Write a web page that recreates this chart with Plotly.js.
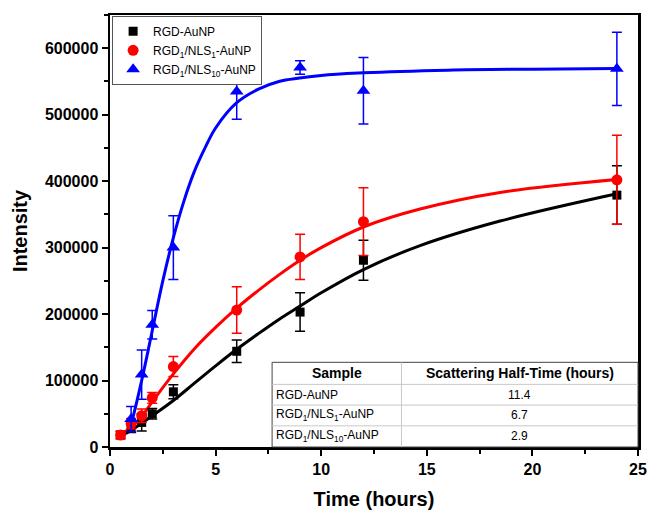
<!DOCTYPE html>
<html>
<head>
<meta charset="utf-8">
<script src="https://cdn.plot.ly/plotly-3.0.1.min.js"></script>
<style>html,body{margin:0;padding:0;background:#fff;}#chart{width:656px;height:510px;}</style>
</head>
<body>
<div id="chart"></div>
<script>
// ---- data ----
const times = [0.5, 1, 1.5, 2, 3, 6, 9, 12, 24];
const rgdVals = [18000, 30000, 37000, 50000, 83000, 144000, 203000, 281000, 379000];
const rgdErr  = [5000, 8000, 13000, 8000, 10500, 17000, 29000, 30000, 44000];
const nls1Vals = [18000, 35000, 47000, 74000, 121000, 206000, 286000, 339000, 402000];
const nls1Err  = [6000, 8000, 10000, 8000, 15000, 35000, 34000, 51000, 67000];
const blueTimes = [1, 1.5, 2, 3, 6, 9, 12, 24];
const nls10Vals = [42000, 109000, 184000, 300000, 535000, 571000, 536000, 569000];
const nls10Err  = [19000, 37000, 21500, 48000, 42000, 10000, 50000, 55000];

// fitted curves
const fitTimesRgd = [0.4, 1, 2, 3, 4, 5, 6, 7, 8, 9, 10, 12, 14.68, 18.47, 24];
const fitRgd = [15000, 25000, 47000, 70000, 96000, 122000, 147000, 170000, 192000, 212000, 232000, 267000, 303000, 340000, 381000];
const fitTimesNls1 = [0.4, 1, 1.5, 2, 3, 4, 5, 6, 7, 8, 9, 10, 12, 14.68, 18.47, 24];
const fitNls1 = [16000, 30000, 46000, 68000, 110000, 148000, 180000, 209000, 235000, 259000, 281000, 300000, 331000, 358000, 383000, 402500];
const fitTimesNls10 = [0.9, 1, 1.5, 2, 2.5, 3, 3.5, 4, 4.5, 5, 6, 7, 8, 10, 12, 16, 20, 24];
const fitNls10 = [28000, 35000, 100000, 175000, 250000, 315000, 370000, 415000, 450000, 480000, 518000, 538000, 550000, 559000, 563000, 567000, 568500, 569500];

const seriesNames = ['RGD-AuNP', 'RGD<sub>1</sub>/NLS<sub>1</sub>-AuNP', 'RGD<sub>1</sub>/NLS<sub>10</sub>-AuNP'];
const tableHeader = ['Sample', 'Scattering Half-Time (hours)'];
const halfTimes = ['11.4', '6.7', '2.9'];

const FONT = 'Arial, "Liberation Sans", Helvetica, sans-serif';

function fitTrace(x, y, color) {
  return {x: x, y: y, mode: 'lines', type: 'scatter', showlegend: false, hoverinfo: 'skip',
    line: {color: color, width: 3, shape: 'spline', smoothing: 1}};
}
function dataTrace(x, y, err, color, symbol, size, name) {
  return {x: x, y: y, mode: 'markers', type: 'scatter', name: name,
    marker: {color: color, symbol: symbol, size: size},
    error_y: {type: 'data', array: err, visible: true, color: color, thickness: 1.5, width: 5}};
}

const traces = [
  fitTrace(fitTimesRgd, fitRgd, '#000000'),
  fitTrace(fitTimesNls1, fitNls1, '#ff0000'),
  fitTrace(fitTimesNls10, fitNls10, '#0000ff'),
  dataTrace(times, rgdVals, rgdErr, '#000000', 'square', 9, seriesNames[0]),
  dataTrace(times, nls1Vals, nls1Err, '#ff0000', 'circle', 11, seriesNames[1]),
  dataTrace(blueTimes, nls10Vals, nls10Err, '#0000ff', 'triangle-up', 12, seriesNames[2])
];

// table geometry (paper coords)
const tx0 = 0.307, tx1 = 0.552, tx2 = 1.0;
const rowY = [0.196, 0.145, 0.097, 0.049, 0.0];
const shapes = [
  {type: 'rect', xref: 'paper', yref: 'paper', x0: tx0, x1: tx2, y0: 0, y1: rowY[0], fillcolor: '#ffffff', line: {color: '#444444', width: 1}, layer: 'above'},
  {type: 'line', xref: 'paper', yref: 'paper', x0: tx1, x1: tx1, y0: 0, y1: rowY[0], line: {color: '#c8c8c8', width: 1}, layer: 'above'}
];
for (let i = 1; i < 4; i++) {
  shapes.push({type: 'line', xref: 'paper', yref: 'paper', x0: tx0, x1: tx2, y0: rowY[i], y1: rowY[i], line: {color: '#c8c8c8', width: 1}, layer: 'above'});
}
const annotations = [];
annotations.push({xref: 'paper', yref: 'paper', x: (tx0 + tx1) / 2, y: (rowY[0] + rowY[1]) / 2, text: '<b>' + tableHeader[0] + '</b>', showarrow: false, font: {family: FONT, size: 14, color: '#000'}, xanchor: 'center', yanchor: 'middle'});
annotations.push({xref: 'paper', yref: 'paper', x: (tx1 + tx2) / 2, y: (rowY[0] + rowY[1]) / 2, text: '<b>' + tableHeader[1] + '</b>', showarrow: false, font: {family: FONT, size: 14, color: '#000'}, xanchor: 'center', yanchor: 'middle'});
for (let i = 0; i < 3; i++) {
  const yc = (rowY[i + 1] + rowY[i + 2]) / 2;
  annotations.push({xref: 'paper', yref: 'paper', x: tx0 + 0.004, y: yc, text: seriesNames[i], showarrow: false, font: {family: FONT, size: 12, color: '#000'}, xanchor: 'left', yanchor: 'middle'});
  annotations.push({xref: 'paper', yref: 'paper', x: (tx1 + tx2) / 2, y: yc, text: halfTimes[i], showarrow: false, font: {family: FONT, size: 12, color: '#000'}, xanchor: 'center', yanchor: 'middle'});
}

const layout = {
  width: 656, height: 510,
  margin: {l: 110, r: 18, t: 15, b: 63},
  paper_bgcolor: '#ffffff', plot_bgcolor: '#ffffff',
  font: {family: FONT, color: '#000'},
  showlegend: true,
  legend: {x: 0.004, y: 0.998, xanchor: 'left', yanchor: 'top', bgcolor: '#ffffff', bordercolor: '#555555', borderwidth: 1,
    font: {family: FONT, size: 12, color: '#000'}, tracegroupgap: 0},
  xaxis: {range: [0, 25], dtick: 5, tick0: 0, ticks: 'outside', ticklen: 6, tickwidth: 2, tickcolor: '#000',
    showline: true, linewidth: 2.5, linecolor: '#000', mirror: true, showgrid: false, zeroline: false,
    tickfont: {family: FONT, size: 16, weight: 'bold', color: '#000'},
    minor: {dtick: 2.5, ticks: 'outside', ticklen: 4, tickwidth: 2, tickcolor: '#000', showgrid: false},
    title: {text: 'Time (hours)', font: {family: FONT, size: 20, weight: 'bold', color: '#000'}}},
  yaxis: {range: [0, 650000], dtick: 100000, tick0: 0, tickformat: 'd', ticks: 'outside', ticklen: 6, tickwidth: 2, tickcolor: '#000',
    showline: true, linewidth: 2.5, linecolor: '#000', mirror: true, showgrid: false, zeroline: false,
    tickfont: {family: FONT, size: 16, weight: 'bold', color: '#000'},
    minor: {dtick: 50000, ticks: 'outside', ticklen: 4, tickwidth: 2, tickcolor: '#000', showgrid: false},
    title: {text: 'Intensity', standoff: 12, font: {family: FONT, size: 20, weight: 'bold', color: '#000'}}},
  shapes: shapes,
  annotations: annotations
};

Plotly.newPlot('chart', traces, layout, {displayModeBar: false, staticPlot: true});
</script>
</body>
</html>
